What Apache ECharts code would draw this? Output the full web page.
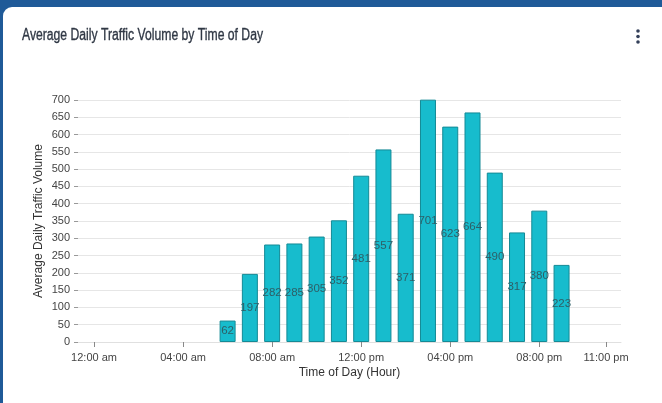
<!DOCTYPE html>
<html>
<head>
<meta charset="utf-8">
<script src="https://cdn.jsdelivr.net/npm/echarts@6/dist/echarts.min.js"></script>
<style>
  html, body { margin: 0; padding: 0; background: #1f5a98; overflow: hidden; }
  #card { position: absolute; left: 3px; top: 7px; width: 720px; height: 440px; background: #fff; border-radius: 9px; }
  #main { position: absolute; left: 0; top: 0; width: 662px; height: 403px; }
</style>
</head>
<body>
<div id="card"></div>
<div id="main"></div>
<script>
// hour of day for each bar
var hours = [6, 7, 8, 9, 10, 11, 12, 13, 14, 15, 16, 17, 18, 19, 20, 21];
// average daily traffic volume
var volumes = [62, 197, 282, 285, 305, 352, 481, 557, 371, 701, 623, 664, 490, 317, 380, 223];
// x tick positions and their labels
var tickHours = [0, 4, 8, 12, 16, 20, 23];
var tickLabels = ['12:00 am', '04:00 am', '08:00 am', '12:00 pm', '04:00 pm', '08:00 pm', '11:00 pm'];

var font = '"Liberation Sans", Arial, sans-serif';
var titleText = 'Average Daily Traffic Volume by Time of Day';
var titleFont = '500 16px "Liberation Sans", Arial, sans-serif';

// the title in the picture is a narrow face, squeeze a normal one to the same width
var ctx = document.createElement('canvas').getContext('2d');
ctx.font = titleFont;
var titleScale = 241 / ctx.measureText(titleText).width;

var chart = echarts.init(document.getElementById('main'));
var option = {
	animation: false,
	graphic: [
		{
			type: 'text', x: 22, y: 28, scaleX: titleScale,
			style: { text: titleText, font: titleFont, fill: '#2f3744', stroke: '#2f3744', lineWidth: 0.35, verticalAlign: 'top' }
		},
		{ type: 'circle', shape: { cx: 638, cy: 31, r: 1.8 }, style: { fill: '#34405a' } },
		{ type: 'circle', shape: { cx: 638, cy: 36.5, r: 1.8 }, style: { fill: '#34405a' } },
		{ type: 'circle', shape: { cx: 638, cy: 42, r: 1.8 }, style: { fill: '#34405a' } }
	],
	grid: {
		left: 78,
		right: 41,
		top: 100,
		bottom: 61
	},
	xAxis: {
		type: 'value',
		min: -0.72,
		max: 23.67,
		name: 'Time of Day (Hour)',
		nameLocation: 'middle',
		nameGap: 25,
		nameMoveOverlap: false,
		nameTextStyle: { fontFamily: font, fontSize: 12, color: '#333' },
		axisLine: { show: true, lineStyle: { color: '#e0e0e0' } },
		axisTick: {
			show: true,
			customValues: tickHours,
			length: 5,
			lineStyle: { color: '#888' }
		},
		axisLabel: {
			customValues: tickHours,
			fontFamily: font,
			fontSize: 11,
			color: '#444',
			margin: 10,
			formatter: function (v) {
				var i = tickHours.indexOf(Math.round(v));
				return i >= 0 ? tickLabels[i] : '';
			}
		},
		splitLine: { show: false }
	},
	yAxis: {
		type: 'value',
		min: 0,
		max: 700,
		interval: 50,
		name: 'Average Daily Traffic Volume',
		nameLocation: 'middle',
		nameGap: 33,
		nameMoveOverlap: false,
		nameTextStyle: { fontFamily: font, fontSize: 12, color: '#333' },
		axisLine: { show: false, onZero: false },
		axisTick: { show: true, length: 4, lineStyle: { color: '#999' } },
		axisLabel: { fontFamily: font, fontSize: 11, color: '#444', margin: 8 },
		splitLine: { lineStyle: { color: '#e6e6e6' } }
	},
	series: [{
		type: 'bar',
		barWidth: 16,
		data: hours.map(function (h, i) { return [h, volumes[i]]; }),
		itemStyle: {
			color: '#17bccd',
			borderColor: '#148a96',
			borderWidth: 1
		},
		label: {
			show: true,
			position: 'inside',
			fontFamily: font,
			fontSize: 11.5,
			color: '#2e5f67',
			formatter: function (p) { return p.value[1]; }
		}
	}]
};
chart.setOption(option);
</script>
</body>
</html>
